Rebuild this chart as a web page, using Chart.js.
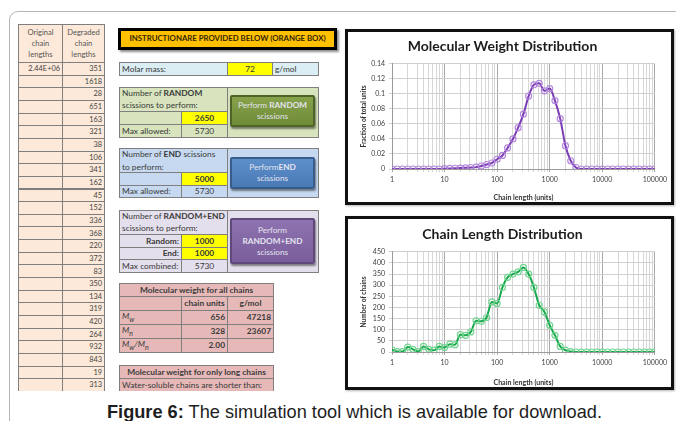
<!DOCTYPE html>
<html>
<head>
<meta charset="utf-8">
<script src="https://cdn.jsdelivr.net/npm/chart.js@4.4.1/dist/chart.umd.min.js"></script>
<style>
  html, body { margin: 0; padding: 0; background: #fff; }
  body { width: 676px; height: 421px; position: relative; overflow: hidden; font-family: Lato, "Open Sans", sans-serif; }
  .frame { position: absolute; left: 9px; top: 11px; width: 720px; height: 460px; border: 1px solid #b5b5b5; border-radius: 9px; }
  .sheet { position: absolute; left: 0; top: 0; width: 676px; height: 391px; overflow: hidden; }
  .c { position: absolute; box-sizing: border-box; font-size: 8.4px; line-height: 1; color: #3a3a3a; white-space: nowrap; display: flex; align-items: center; padding: 0 2px; }
  .bd { border: 1px solid #7f7f7f; }
  .yel { background: #ffff00; justify-content: center; font-weight: bold; }
  .r { justify-content: flex-end; }
  .ctr { justify-content: center; }
  .btn { position: absolute; box-sizing: border-box; border-radius: 2px; color: #e4e4ee; font-size: 8.2px; line-height: 11px; text-align: center; display: flex; align-items: center; justify-content: center; box-shadow: 1px 2px 2px rgba(0,0,0,0.45); }
  .btn span { display: block; }
  .chartbox { position: absolute; border: 3px solid #111; background: #fff; box-shadow: 1px 1px 2px rgba(0,0,0,0.3); }
  .chartbox canvas { display: block; }
  .caption { position: absolute; left: 0; width: 709px; top: 402px; text-align: center; font-family: "Liberation Sans", Arial, sans-serif; font-size: 18.2px; line-height: 20px; color: #1e1e1e; }
</style>
</head>
<body>
<div class="frame"></div>
<div class="sheet" id="sheet"></div>

<div class="chartbox" style="left:345px; top:29px;"><canvas id="mwd" width="323" height="170"></canvas></div>
<div class="chartbox" style="left:345px; top:216px;"><canvas id="cld" width="323" height="168"></canvas></div>

<div class="caption"><b>Figure 6:</b> The simulation tool which is available for download.</div>

<script>
// ---- spreadsheet values ----
const originalLengths = ["2.44E+06"];
const degradedLengths = [351, 1618, 28, 651, 163, 321, 38, 106, 341, 162, 45, 152, 336, 368, 220, 372, 83, 350, 134, 319, 420, 264, 932, 843, 19, 313];
const molarMass = 72;
const randomScissions = 2650;
const endScissions = 5000;
const comboRandom = 1000;
const comboEnd = 1000;
const maxAllowed = 5730;
const mwLabels = ["M<sub>w</sub>", "M<sub>n</sub>", "M<sub>w</sub>/M<sub>n</sub>"];
const mwChainUnits = ["656", "328", "2.00"];
const mwGramsPerMol = ["47218", "23607", ""];

// ---- chart series ----
const chainLengthBins = [1, 1.26, 1.58, 2, 2.51, 3.16, 3.98, 5.01, 6.31, 7.94,
  10, 12.6, 15.8, 20, 25.1, 31.6, 39.8, 50.1, 63.1, 79.4,
  100, 126, 158, 200, 251, 316, 398, 501, 631, 794,
  1000, 1259, 1585, 1995, 2512, 3162, 3981, 5012, 6310, 7943,
  10000, 12589, 15849, 19953, 25119, 31623, 39811, 50119, 63096, 79433,
  100000];
const weightFraction = [0, 0, 0, 0, 0, 0, 0, 0, 0, 0,
  0.0005, 0.0008, 0.001, 0.0012, 0.0015, 0.002, 0.0025, 0.004, 0.006, 0.008,
  0.013, 0.018, 0.028, 0.04, 0.055, 0.073, 0.097, 0.112, 0.114, 0.104,
  0.107, 0.091, 0.067, 0.031, 0.011, 0.002, 0, 0, 0, 0,
  0, 0, 0, 0, 0, 0, 0, 0, 0, 0,
  0];
const chainCount = [10, 2, 2, 22, 12, 2, 25, 12, 8, 25,
  20, 35, 33, 78, 75, 90, 140, 138, 155, 225,
  218, 290, 335, 350, 360, 380, 350, 290, 210, 180,
  120, 75, 25, 8, 2, 0, 0, 0, 0, 0,
  0, 0, 0, 0, 0, 0, 0, 0, 0, 0,
  0];
const xTickLabels = [1, 10, 100, 1000, 10000, 100000];

// ---- build the worksheet ----
const sheet = document.getElementById('sheet');
function cell(x, y, w, h, html, cls, css) {
  const d = document.createElement('div');
  d.className = 'c ' + (cls || '');
  d.style.cssText = `left:${x}px;top:${y}px;width:${w}px;height:${h}px;` + (css || '');
  d.innerHTML = html;
  sheet.appendChild(d);
  return d;
}
function button(x, y, w, h, html, bg, border) {
  const d = document.createElement('div');
  d.className = 'btn';
  d.style.cssText = `left:${x}px;top:${y}px;width:${w}px;height:${h}px;background:${bg};border:2px solid ${border};`;
  d.innerHTML = '<span>' + html + '</span>';
  sheet.appendChild(d);
}

// left column table
const peach = 'background:#fde9d9;';
cell(18, 24, 45, 39, '<span>Original<br>chain<br>lengths</span>', 'bd ctr', peach + 'text-align:center;line-height:11px;font-size:7.6px;color:#555;');
cell(62, 24, 43, 39, '<span>Degraded<br>chain<br>lengths</span>', 'bd ctr', peach + 'text-align:center;line-height:11px;font-size:7.6px;color:#555;');
const rowH = 12.65;
degradedLengths.forEach((v, i) => {
  const y = 62 + i * rowH;
  cell(18, y, 45, rowH + 1, originalLengths[i] || '', 'bd r', peach + 'font-size:7.4px;color:#444;');
  cell(62, y, 43, rowH + 1, String(v), 'bd r', peach + 'font-size:7.4px;color:#444;');
});

// instruction banner
cell(118, 28, 219, 22, 'INSTRUCTIONARE PROVIDED BELOW (ORANGE BOX)', 'ctr',
  'background:#ffc000;border:3px solid #000;font-weight:bold;font-size:7.8px;color:#332500;box-shadow:2px 2px 2px rgba(0,0,0,0.45);');

// molar mass
const cyan = 'background:#dbeef4;';
cell(119, 62, 109, 14, 'Molar mass:', 'bd', cyan);
cell(227, 62, 46, 14, String(molarMass), 'bd yel', 'font-weight:normal;');
cell(272, 62, 47, 14, 'g/mol', 'bd', cyan);

// random scissions panel
const green = 'background:#d7e4bd;';
cell(119, 87, 200, 51, '', 'bd', green);
cell(119, 87, 109, 51, '', 'bd', green);
cell(120, 87, 107, 12, 'Number of&nbsp;<b>RANDOM</b>', '', '');
cell(120, 99, 107, 12, 'scissions to perform:', '', '');
cell(119, 111, 63, 14, '', 'bd', green);
cell(181, 111, 47, 14, String(randomScissions), 'bd yel');
cell(119, 124, 63, 14, 'Max allowed:', 'bd', green);
cell(181, 124, 47, 14, String(maxAllowed), 'bd ctr', green);
button(230, 95, 85, 32, 'Perform <b>RANDOM</b><br>scissions', 'linear-gradient(#86a24a,#6f8b38)', '#4f6228');

// end scissions panel
const blue = 'background:#c6d9f1;';
cell(119, 148, 200, 50, '', 'bd', blue);
cell(119, 148, 109, 50, '', 'bd', blue);
cell(120, 148, 107, 13, 'Number of&nbsp;<b>END</b>&nbsp;scissions', '', '');
cell(120, 161, 107, 12, 'to perform:', '', '');
cell(119, 172, 63, 14, '', 'bd', blue);
cell(181, 172, 47, 14, String(endScissions), 'bd yel');
cell(119, 185, 63, 13, 'Max allowed:', 'bd', blue);
cell(181, 185, 47, 13, String(maxAllowed), 'bd ctr', blue);
button(230, 157, 85, 32, 'Perform<b>END</b><br>scissions', 'linear-gradient(#5d8fcb,#4a7ab6)', '#385d8a');

// random + end panel
const lilac = 'background:#e4dfec;';
cell(119, 210, 200, 63, '', 'bd', lilac);
cell(119, 210, 109, 63, '', 'bd', lilac);
cell(120, 210, 107, 12, 'Number of&nbsp;<b>RANDOM+END</b>', '', '');
cell(120, 222, 107, 12, 'scissions to perform:', '', '');
cell(119, 234, 63, 14, '<b>Random:</b>', 'bd r', lilac);
cell(181, 234, 47, 14, String(comboRandom), 'bd yel');
cell(119, 247, 63, 13, '<b>End:</b>', 'bd r', lilac);
cell(181, 247, 47, 13, String(comboEnd), 'bd yel');
cell(119, 259, 63, 14, 'Max combined:', 'bd', lilac);
cell(181, 259, 47, 14, String(maxAllowed), 'bd ctr', lilac);
button(230, 218, 85, 46, 'Perform<br><b>RANDOM+END</b><br>scissions', 'linear-gradient(#8e73b0,#7a5e9c)', '#5f497a');

// molecular weight tables
const rose = 'background:#e6b9b8;';
cell(119, 283, 155, 14, '<b>Molecular weight for all chains</b>', 'bd ctr', rose);
cell(119, 296, 63, 15, '', 'bd', rose);
cell(181, 296, 47, 15, '<b>chain units</b>', 'bd ctr', rose);
cell(227, 296, 47, 15, '<b>g/mol</b>', 'bd ctr', rose);
mwLabels.forEach((lab, i) => {
  const y = 310 + i * 14;
  cell(119, y, 63, 15, '<i>' + lab + '</i>', 'bd', rose);
  cell(181, y, 47, 15, '<b>' + mwChainUnits[i] + '</b>', 'bd r', rose);
  cell(227, y, 47, 15, '<b>' + mwGramsPerMol[i] + '</b>', 'bd r', rose);
});
cell(119, 365, 155, 14, '<b>Molecular weight for only long chains</b>', 'bd ctr', rose);
cell(119, 378, 155, 14, 'Water-soluble chains are shorter than:', 'bd', rose);

// ---- charts ----
const gridTickValues = [];
for (let e = 0; e < 5; e++) {
  for (let m = 1; m < 10; m++) gridTickValues.push(m * Math.pow(10, e));
}
gridTickValues.push(100000);

function isDecade(v) {
  const l = Math.log10(v);
  return Math.abs(l - Math.round(l)) < 1e-9;
}

const FONT = 'Lato, "Open Sans", sans-serif';

function distributionChart(id, titleText, yTitle, values, yMax, yStep, yFmt, lineColor, markerColor, pad) {
  const ctx = document.getElementById(id);
  return new Chart(ctx, {
    type: 'line',
    data: {
      datasets: [{
        data: chainLengthBins.map((x, i) => ({ x: x, y: values[i] })),
        borderColor: lineColor,
        borderWidth: 2,
        cubicInterpolationMode: 'monotone',
        pointRadius: 3,
        pointBorderWidth: 1.2,
        pointBorderColor: markerColor,
        pointBackgroundColor: 'rgba(255,255,255,0)',
        fill: false
      }]
    },
    options: {
      responsive: false,
      animation: false,
      devicePixelRatio: 1,
      layout: { padding: { top: pad.top, right: 14, bottom: 0, left: 0 } },
      plugins: {
        legend: { display: false },
        tooltip: { enabled: false },
        title: {
          display: true,
          text: titleText,
          color: '#1c1c1c',
          font: { family: FONT, size: 14, weight: 'bold' },
          padding: { top: 2, bottom: pad.titleBottom }
        }
      },
      scales: {
        x: {
          type: 'logarithmic',
          min: 1,
          max: 100000,
          afterBuildTicks: (axis) => { axis.ticks = gridTickValues.map(v => ({ value: v })); },
          afterFit: (axis) => { axis.height = pad.xAxis; },
          ticks: {
            autoSkip: false,
            maxRotation: 0,
            padding: 4,
            color: '#404040',
            font: { family: FONT, size: 7 },
            callback: (v) => (xTickLabels.includes(v) ? String(v) : '')
          },
          grid: {
            color: (c) => (c.tick && isDecade(c.tick.value) ? '#a8a8a8' : '#d6d6d6'),
            lineWidth: 1,
            tickLength: 3
          },
          border: { color: '#9a9a9a' },
          title: {
            display: true,
            text: 'Chain length (units)',
            color: '#333',
            font: { family: FONT, size: 7, weight: 'bold' },
            padding: { top: 2, bottom: 0 }
          }
        },
        y: {
          min: 0,
          max: yMax,
          afterFit: (axis) => { axis.width = 44; },
          ticks: {
            stepSize: yStep,
            autoSkip: false,
            padding: 4,
            color: '#404040',
            font: { family: FONT, size: 7 },
            callback: yFmt
          },
          grid: { color: '#cfcfcf', lineWidth: 1, tickLength: 3 },
          border: { color: '#9a9a9a' },
          title: {
            display: true,
            text: yTitle,
            color: '#333',
            font: { family: FONT, size: 6.5, weight: 'bold' },
            padding: { top: 12, bottom: 0 }
          }
        }
      }
    }
  });
}

distributionChart('mwd', 'Molecular Weight Distribution', 'Fraction of total units', weightFraction,
  0.14, 0.02, (v) => String(Math.round(v * 100) / 100), '#7b3db3', 'rgba(176,130,220,0.95)',
  { top: 4, titleBottom: 9, xAxis: 33 });

distributionChart('cld', 'Chain Length Distribution', 'Number of chains', chainCount,
  450, 50, (v) => String(Math.round(v)), '#17a94d', 'rgba(110,210,140,0.95)',
  { top: 5, titleBottom: 9, xAxis: 35 });
</script>
</body>
</html>
